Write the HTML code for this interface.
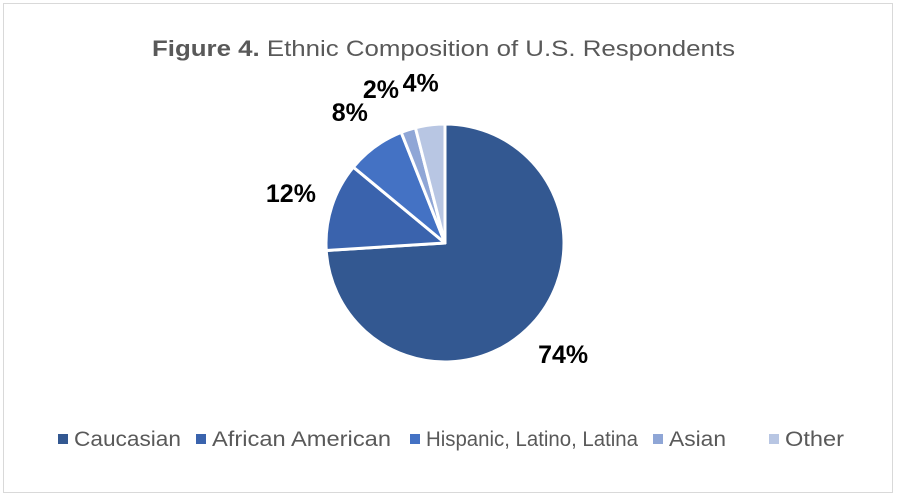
<!DOCTYPE html>
<html><head><meta charset="utf-8"><style>
html,body{margin:0;padding:0;background:#fff;}
body{width:898px;height:498px;position:relative;overflow:hidden;font-family:"Liberation Sans",sans-serif;}
#frame{position:absolute;left:3px;top:3px;width:890px;height:490px;border:1px solid #d9d9d9;box-sizing:border-box;}
</style></head><body>
<div id="frame"></div>
<svg id="chart" width="898" height="498" style="position:absolute;left:0;top:0">
<text x="152" y="56" font-size="22" fill="#595959" textLength="583" lengthAdjust="spacingAndGlyphs"><tspan font-weight="bold">Figure 4.</tspan> Ethnic Composition of U.S. Respondents</text>
<g id="slices"></g>
<g id="labels"></g>
<g id="legend"></g>
</svg>
<script>
const categories = ["Caucasian","African American","Hispanic, Latino, Latina","Asian","Other"];
const values = [74,12,8,2,4];
const valueLabels = ["74%","12%","8%","2%","4%"];
const colors = ["#335891","#3a63ad","#4472c4","#8fa6d6","#b8c6e3"];
const NS="http://www.w3.org/2000/svg";
const cx=445, cy=243, r=119, labelR=162;
const total=values.reduce((a,b)=>a+b,0);
const gS=document.getElementById('slices'), gL=document.getElementById('labels'), gG=document.getElementById('legend');
function pt(a,rad){return [cx+Math.sin(a)*rad, cy-Math.cos(a)*rad];}
let acc=0;
values.forEach((v,i)=>{
  const a0=acc/total*2*Math.PI; acc+=v; const a1=acc/total*2*Math.PI;
  const p0=pt(a0,r), p1=pt(a1,r);
  const large=(a1-a0)>Math.PI?1:0;
  const path=document.createElementNS(NS,'path');
  path.setAttribute('d',`M${cx},${cy} L${p0[0]},${p0[1]} A${r},${r} 0 ${large} 1 ${p1[0]},${p1[1]} Z`);
  path.setAttribute('fill',colors[i]);
  path.setAttribute('stroke','#fff');
  path.setAttribute('stroke-width','3');
  path.setAttribute('stroke-linejoin','round');
  
  
  gS.appendChild(path);
  const am=(a0+a1)/2, lp=pt(am,labelR);
  const t=document.createElementNS(NS,'text');
  t.setAttribute('x',lp[0]+(i===3?-14:0)+(i===4?-4:0)); t.setAttribute('y',lp[1]+9);
  t.setAttribute('text-anchor','middle');
  t.setAttribute('font-size','25'); t.setAttribute('font-weight','bold'); t.setAttribute('fill','#000');
  t.textContent=valueLabels[i];
  
  
  gL.appendChild(t);
});
const legendX=[58,196,410,653,769];
const legendW=[107,179,212,57,59];
categories.forEach((c,i)=>{
  const g=document.createElementNS(NS,'g');
  
  
  const rc=document.createElementNS(NS,'rect');
  rc.setAttribute('x',legendX[i]); rc.setAttribute('y',434); rc.setAttribute('width',10); rc.setAttribute('height',10);
  rc.setAttribute('fill',colors[i]);
  const t=document.createElementNS(NS,'text');
  t.setAttribute('x',legendX[i]+16); t.setAttribute('y',446);
  t.setAttribute('font-size','21'); t.setAttribute('fill','#595959');
  t.setAttribute('textLength',legendW[i]); t.setAttribute('lengthAdjust','spacingAndGlyphs');
  t.textContent=c;
  g.appendChild(rc); g.appendChild(t); gG.appendChild(g);
});
</script>
</body></html>
